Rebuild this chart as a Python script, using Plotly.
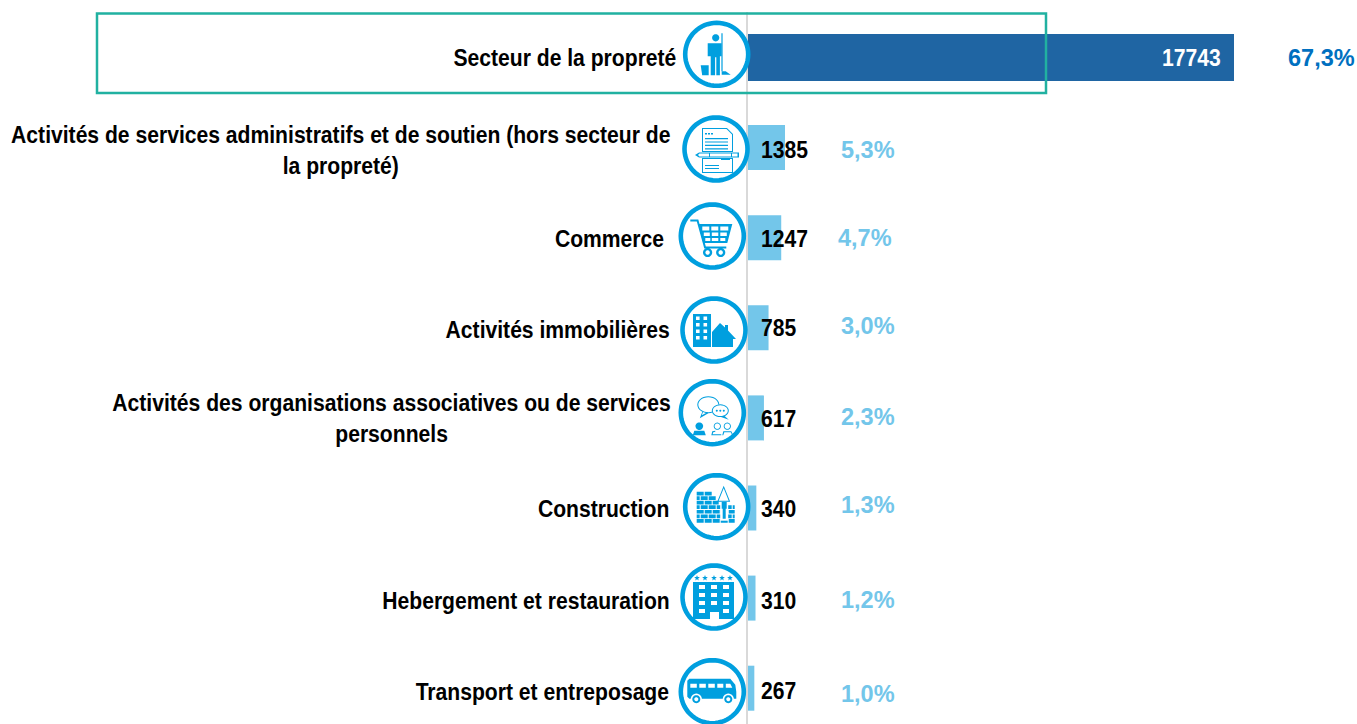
import math
import plotly.graph_objects as go

categories = [
    "Secteur de la propreté",
    "Activités de services administratifs et de soutien (hors secteur de<br>la propreté)",
    "Commerce",
    "Activités immobilières",
    "Activités des organisations associatives ou de services<br>personnels",
    "Construction",
    "Hebergement et restauration",
    "Transport et entreposage",
]
values = [17743, 1385, 1247, 785, 617, 340, 310, 267]
percents = ["67,3%", "5,3%", "4,7%", "3,0%", "2,3%", "1,3%", "1,2%", "1,0%"]

W, H = 1357, 724
X0 = 747.0
PX_PER_UNIT = 487 / 17743
ROW0, ROW = 57.5, 90.1
BLUE = "#009FDF"
LIGHT = "#73C6EA"
DARK = "#1F65A3"
TEAL = "#21B1A1"
SANS = "Liberation Sans, Arial"

# layout helpers (pixel placement of decoration and labels)
label_right = [678, 673, 666, 672, 672.5, 671, 672, 671]
label_y = [58, 149.5, 238, 329, 418.5, 509, 600, 691]
value_y = [58, 149, 238, 328, 418, 509, 600, 690]
pct_right = [1357, 897, 894, 897, 897, 897, 897, 897]
pct_y = [58, 150, 238, 326, 417, 505, 600, 694]
icon_center = [(716.7, 54.3), (716, 149), (712.3, 236), (714, 330),
               (712.3, 412.7), (716.7, 506.7), (714, 597), (712.3, 691.7)]


def px(x):
    return x / W


def py(y):
    return 1 - y / H


def R(x0, y0, x1, y1):
    return [(x0, y0), (x1, y0), (x1, y1), (x0, y1)]


def E(cx, cy, rx, ry=None, n=28):
    ry = rx if ry is None else ry
    return [(cx + rx * math.cos(2 * math.pi * i / n), cy + ry * math.sin(2 * math.pi * i / n)) for i in range(n)]


def path(polys, cx=0, cy=0):
    out = []
    for p in polys:
        out.append("M" + " L".join(f"{px(cx + a):.5f},{py(cy + b):.5f}" for a, b in p) + " Z")
    return " ".join(out)


def star(cx, cy, r=3.0):
    return [(cx + (r if i % 2 == 0 else r * 0.42) * math.sin(math.pi * i / 5),
             cy - (r if i % 2 == 0 else r * 0.42) * math.cos(math.pi * i / 5)) for i in range(10)]


def ring(cx, cy, rx, ry=None, t=0.9):
    ry = rx if ry is None else ry
    return [E(cx, cy, rx, ry), E(cx, cy, rx - t, ry - t)]


icons = []
# 0 cleaner
icons.append([
    [E(-1, -16.5, 3.6)],
    [[(-9, -11), (5, -11), (5, 2), (3.2, 2), (3.2, 21), (-0.4, 21), (-0.4, 3), (-1.6, 3), (-1.6, 21), (-6, 21), (-6, 2), (-9, 2)]],
    [R(4.7, -21, 5.9, 17)],
    [[(5, 17), (9, 17), (14, 20.5), (5, 20.5)]],
    [[(-16, 11), (-8, 11), (-8, 21), (-14.5, 21)]],
])
# 1 document and pencil
icons.append([
    [[(-14, -21), (11, -21), (17, -15), (17, 3), (-14, 3)], [(-13, -20), (10.5, -20), (16, -14.5), (16, 2), (-13, 2)]],
    [[(-14, 9), (17, 9), (17, 24), (-14, 24)], [(-13, 10), (16, 10), (16, 23), (-13, 23)]],
    [R(-11, -16, -9, -14.5), R(-8, -16, -6, -14.5), R(-5, -16, -3, -14.5)],
    [R(-11, -11, 12, -9.8), R(-11, -7.6, 12, -6.4), R(-11, -4.2, 12, -3), R(-11, -0.8, 12, 0.4)],
    ("white", [R(-21, 3.6, 23, 8.4)]),
    [[(-21, 6), (-17, 3.6), (23, 3.6), (23, 8.4), (-17, 8.4)], [(-18, 6), (-16.5, 4.6), (21.5, 4.6), (21.5, 7.4), (-16.5, 7.4)]],
    [R(-7, 4, -6, 8), R(15, 4, 16, 8)],
    [R(-11, 16, 3, 17), R(-11, 19, 3, 20), R(5, 10, 14, 11)],
])
# 2 cart
icons.append([
    [[(-14, -12), (20, -12), (15, 7), (-9, 7)],
     R(-10, -9.5, -3, -5.5), R(-1, -9.5, 6, -5.5), R(8, -9.5, 16, -5.5),
     R(-8.5, -3.5, -2.5, 0), R(-0.5, -3.5, 6, 0), R(8, -3.5, 14.5, 0),
     R(-7, 2, -2, 5), R(-0.5, 2, 6, 5), R(8, 2, 13, 5)],
    [[(-22, -16.5), (-14, -16.5), (-6.5, 10.5), (14, 10.5), (14, 12.5), (-8, 12.5), (-15.5, -14.5), (-22, -14.5)]],
    ring(-4.7, 16.5, 4.6, t=2.4),
    ring(8.4, 16.5, 4.6, t=2.4),
])
# 3 building and house
win = [R(a, b, a + 3.6, b + 3.6) for b in (-13.5, -7, -0.5, 6) for a in (-18, -10.5)]
icons.append([
    [R(-21, -16, -3, 17)] + win,
    [[(-2, 2), (6, -7), (11, -2.5), (11, -5), (14, -5), (14, 0.5), (22, 9), (19, 9), (19, 17), (-2, 17)]],
])
# 4 speech and people
icons.append([
    [E(-4, -8, 11, 8.5), E(-4, -8, 10, 7.5)],
    [[(-10, -1), (-12.5, 5.5), (-4, 0.5), (-5, -0.5), (-10.5, 2.5), (-9, -1.5)]],
    ("white", [E(8, -2, 8.5, 6.4)]),
    [E(8, -2, 8.5, 6.4), E(8, -2, 7.5, 5.4)],
    [E(4.5, -2, 1), E(8, -2, 1), E(11.5, -2, 1)],
    [[(12, 3), (16.5, 7), (8, 4)]],
    [E(-13, 13.5, 3.8)],
    [[(-19.5, 22.5), (-18, 18), (-8, 18), (-6.5, 22.5)]],
    ring(5, 13.5, 3.6),
    ring(15, 13.5, 3.6),
    [[(-1, 22.5), (0, 18.5), (3, 18), (3, 19), (1, 19.5), (0.3, 21.5), (9, 21.5), (9, 22.5)]],
    [[(10, 22.5), (11, 18.5), (19, 18.5), (21, 22.5), (20, 22.5), (18.5, 19.5), (12, 19.5), (11, 22.5)]],
])
# 5 bricks and trowel
bricks = []
for row, (a, b, st) in enumerate([(-20, -5, 0), (-20, 0, 4), (-20, 2, 0), (-20, 18, 4), (-20, 18, 0), (-20, 18, 4), (-20, 18, 0)]):
    y = -15 + row * 4.55
    x = a
    first = True
    while x < b - 0.5:
        w = (st if first and st else 8)
        bricks.append(R(x, y, min(x + w - 1, b), y + 3.7))
        x += w
        first = False
icons.append([
    bricks,
    ("white", [R(3.5, -5, 11.5, 14)]),
    [R(5, -5, 10, 2), R(6, 2, 9, 12)],
    [[(7, -21), (13.5, -5), (0.5, -5)], [(7, -18.5), (12, -6), (2, -6)]],
])
# 6 hotel
hotel = [[(-21, -15), (20, -15), (20, 22), (5, 22), (5, 15), (-4, 15), (-4, 22), (-21, 22)]]
for wy in (-12, -4, 4):
    for wx in (-15, -3, 9):
        hotel.append(R(wx, wy, wx + 6, wy + 4))
hotel += [R(-15, 12, -9, 16), R(9, 12, 15, 16)]
icons.append([
    hotel,
    [star(x, -19) for x in (-17, -9, 0, 8, 16)],
])
# 7 bus
bus = [[(-25, -11), (-23, -13), (18, -13), (23, -7), (24, 0), (24, 7), (-23, 7), (-25, 5)],
       R(-22, -8, -15.5, -4), R(-13, -8, -6.5, -4), R(-4, -8, 2.5, -4), R(5, -8, 11, -4),
       [(13.5, -8), (18, -8), (20, -4), (13.5, -4)]]
icons.append([
    bus,
    ("white", [E(-16, 7.5, 5.6)]),
    ("white", [E(16, 7.5, 5.6)]),
    ring(-16, 7.5, 4, t=2),
    ring(16, 7.5, 4, t=2),
])

shapes = []
# axis line
shapes.append(dict(type="line", xref="paper", yref="paper", x0=px(747), x1=px(747), y0=py(12), y1=0,
                   line=dict(color="#D9D9D9", width=2)))
# highlight box
shapes.append(dict(type="rect", xref="paper", yref="paper", x0=px(97), x1=px(1046), y0=py(13.5), y1=py(93),
                   line=dict(color=TEAL, width=2.5), fillcolor="rgba(0,0,0,0)"))
for (cx, cy), glyphs in zip(icon_center, icons):
    shapes.append(dict(type="path", xref="paper", yref="paper", path=path([E(cx, cy, 31.5, n=64)]),
                       line=dict(color=BLUE, width=4.6), fillcolor="white"))
    for g in glyphs:
        color = BLUE
        if isinstance(g, tuple):
            color, g = g
        shapes.append(dict(type="path", xref="paper", yref="paper", path=path(g, cx, cy),
                           line=dict(width=0), fillcolor=color))

annotations = []
for i, c in enumerate(categories):
    annotations.append(dict(xref="paper", yref="paper", x=px(label_right[i]), y=py(label_y[i]),
                            xanchor="right", yanchor="middle", text=f"<b>{c}</b>",
                            align="center", showarrow=False,
                            font=dict(family=SANS, size=24, color="#000000")))
for i, v in enumerate(values):
    annotations.append(dict(xref="paper", yref="paper", x=px(1223 if i == 0 else 759), y=py(value_y[i]),
                            xanchor="right" if i == 0 else "left", yanchor="middle", text=f"<b>{v}</b>",
                            showarrow=False,
                            font=dict(family=SANS, size=24, color="white" if i == 0 else "#000000")))
for i, p in enumerate(percents):
    annotations.append(dict(xref="paper", yref="paper", x=px(pct_right[i]), y=py(pct_y[i]),
                            xanchor="right", yanchor="middle", text=f"<b>{p}</b>",
                            showarrow=False,
                            font=dict(family=SANS, size=23.5, color="#0070C0" if i == 0 else LIGHT)))

fig = go.Figure(go.Bar(
    y=categories, x=values, orientation="h",
    marker=dict(color=[DARK] + [LIGHT] * (len(values) - 1), line=dict(width=0)),
    width=[47 / ROW] + [45 / ROW] * (len(values) - 1),
    hoverinfo="skip",
))
fig.update_layout(
    width=W, height=H, margin=dict(l=0, r=0, t=0, b=0),
    paper_bgcolor="white", plot_bgcolor="white", showlegend=False,
    xaxis=dict(range=[-X0 / PX_PER_UNIT, (W - X0) / PX_PER_UNIT], visible=False),
    yaxis=dict(type="category", categoryorder="array", categoryarray=categories,
               range=[(H - ROW0) / ROW, -ROW0 / ROW], visible=False),
    shapes=shapes, annotations=annotations,
)

# The reference uses a narrow bold face: squeeze labels and values horizontally.
n_labels, n_values = len(categories), len(values)
post = """
document.body.style.margin='0';document.body.style.overflow='hidden';
(function(){
  var texts = document.querySelectorAll('.annotation text');
  texts.forEach(function(t, i){
    if (i >= %d + %d) return;
    var k = 0.88;
    var b = t.getBBox();
    var left = i >= %d && i !== %d;
    var ax = left ? b.x : b.x + b.width;
    var old = t.getAttribute('transform') || '';
    t.setAttribute('transform', old + ' translate(' + ax + ',0) scale(' + k + ',1) translate(' + (-ax) + ',0)');
  });
})();
""" % (n_labels, n_values, n_labels, n_labels)
fig.write_html("out.html", post_script=post, config={"displayModeBar": False})
